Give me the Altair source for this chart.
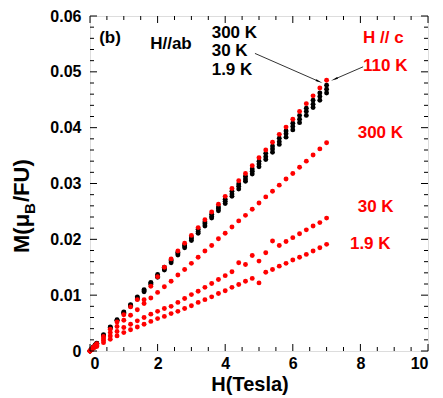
import altair as alt
import pandas as pd

# ---------------- data ----------------
H = [0, 0.05, 0.1, 0.15, 0.2, 0.4, 0.6, 0.8, 1.0, 1.2, 1.4, 1.6, 1.8, 2.0, 2.2, 2.4, 2.6, 2.8,
     3.0, 3.2, 3.4, 3.6, 3.8, 4.0, 4.2, 4.4, 4.6, 4.8, 5.0, 5.2, 5.4, 5.6, 5.8, 6.0, 6.2, 6.4,
     6.6, 6.8, 7.0]

ab_300K = [0, 0.0004, 0.0007, 0.0011, 0.0014, 0.0029, 0.0043, 0.0056, 0.0070, 0.0083, 0.0097,
           0.0110, 0.0123, 0.0137, 0.0150, 0.0163, 0.0177, 0.0190, 0.0204, 0.0218, 0.0231, 0.0245,
           0.0258, 0.0272, 0.0286, 0.0299, 0.0313, 0.0326, 0.0340, 0.0354, 0.0367, 0.0381, 0.0394,
           0.0408, 0.0422, 0.0435, 0.0449, 0.0462, 0.0476]
ab_30K = [0, 0.0003, 0.0007, 0.0010, 0.0013, 0.0028, 0.0042, 0.0055, 0.0069, 0.0082, 0.0095,
          0.0108, 0.0121, 0.0134, 0.0147, 0.0161, 0.0174, 0.0188, 0.0201, 0.0214, 0.0228, 0.0241,
          0.0255, 0.0268, 0.0281, 0.0295, 0.0308, 0.0322, 0.0335, 0.0348, 0.0362, 0.0375, 0.0389,
          0.0402, 0.0415, 0.0429, 0.0442, 0.0456, 0.0469]
ab_1p9K = [0, 0.0003, 0.0007, 0.0010, 0.0013, 0.0027, 0.0041, 0.0054, 0.0067, 0.0080, 0.0093,
           0.0106, 0.0119, 0.0132, 0.0145, 0.0158, 0.0172, 0.0185, 0.0198, 0.0211, 0.0224, 0.0238,
           0.0251, 0.0264, 0.0277, 0.0290, 0.0304, 0.0317, 0.0330, 0.0343, 0.0356, 0.0370, 0.0383,
           0.0396, 0.0409, 0.0422, 0.0436, 0.0449, 0.0462]

c_110K = [0, 0.0003, 0.0007, 0.0010, 0.0013, 0.0026, 0.0039, 0.0052, 0.0065, 0.0079, 0.0092,
          0.0092, 0.0116, 0.0133, 0.0150, 0.0165, 0.0179, 0.0193, 0.0207, 0.0221, 0.0235, 0.0249,
          0.0263, 0.0277, 0.0291, 0.0305, 0.0318, 0.0332, 0.0346, 0.0360, 0.0374, 0.0388, 0.0401,
          0.0415, 0.0429, 0.0443, 0.0457, 0.0471, 0.0485]
c_300K = [0, 0.0003, 0.0006, 0.0008, 0.0011, 0.0022, 0.0033, 0.0044, 0.0055, 0.0064, 0.0074,
          0.0085, 0.0095, 0.0105, 0.0115, 0.0125, 0.0136, 0.0146, 0.0157, 0.0168, 0.0179, 0.0189,
          0.0201, 0.0211, 0.0222, 0.0233, 0.0243, 0.0254, 0.0265, 0.0276, 0.0286, 0.0297, 0.0308,
          0.0318, 0.0329, 0.0340, 0.0351, 0.0362, 0.0373]
c_30K = [0, 0.0003, 0.0006, 0.0008, 0.0010, 0.0019, 0.0027, 0.0035, 0.0042, 0.0048, 0.0054,
         0.0060, 0.0066, 0.0071, 0.0076, 0.0080, 0.0087, 0.0094, 0.0101, 0.0107, 0.0114, 0.0121,
         0.0128, 0.0135, 0.0142, 0.0158, 0.0155, 0.0171, 0.0161, 0.0176, 0.0197, 0.0189, 0.0196,
         0.0203, 0.0210, 0.0217, 0.0224, 0.0230, 0.0238]
c_1p9K = [0, 0.0002, 0.0005, 0.0007, 0.0008, 0.0015, 0.0021, 0.0027, 0.0033, 0.0038, 0.0043,
          0.0048, 0.0053, 0.0058, 0.0062, 0.0067, 0.0071, 0.0076, 0.0081, 0.0087, 0.0092, 0.0097,
          0.0103, 0.0108, 0.0114, 0.0119, 0.0125, 0.0130, 0.0122, 0.0141, 0.0146, 0.0152, 0.0157,
          0.0163, 0.0168, 0.0173, 0.0179, 0.0185, 0.0191]

x_labels = [0, 2, 4, 6, 8, 10]
y_labels = [0, 0.01, 0.02, 0.03, 0.04, 0.05, 0.06]
x_minor = [0.5, 1, 1.5, 2.5, 3, 3.5, 4.5, 5, 5.5, 6.5, 7, 7.5, 8.5, 9, 9.5]
y_minor = [0.002, 0.004, 0.006, 0.008, 0.012, 0.014, 0.016, 0.018, 0.022, 0.024, 0.026, 0.028,
           0.032, 0.034, 0.036, 0.038, 0.042, 0.044, 0.046, 0.048, 0.052, 0.054, 0.056, 0.058]

ann_text = ["(b)", "H//ab", "300 K", "30 K", "1.9 K", "H // c", "110 K", "300 K", "30 K", "1.9 K"]
ann_x = [0.27, 1.78, 3.6, 3.6, 3.6, 8.08, 8.08, 7.92, 7.92, 7.69]
ann_y = [0.0560, 0.0550, 0.0569, 0.0537, 0.0503, 0.0560, 0.0510, 0.0391, 0.0258, 0.0191]
ann_col = ["black", "black", "black", "black", "black", "red", "red", "red", "red", "red"]

arrow_x = [4.88, 8.08]
arrow_y = [0.0533, 0.0509]
arrow_x2 = [6.75, 7.26]
arrow_y2 = [0.04834, 0.04875]
arrow_angle = [114, 246.5]

# ---------------- build ----------------
W, HT = 338, 335
FONT = "Liberation Sans"

series = [("ab 300K", ab_300K, "black"), ("ab 30K", ab_30K, "black"), ("ab 1.9K", ab_1p9K, "black"),
          ("c 110K", c_110K, "red"), ("c 300K", c_300K, "red"), ("c 30K", c_30K, "red"),
          ("c 1.9K", c_1p9K, "red")]
rows = []
k = 0
for name, vals, col in series:
    for h, m in zip(H, vals):
        rows.append({"H": h, "M": m, "series": name, "col": col, "idx": k})
        k += 1
df = pd.DataFrame(rows)

xs = alt.Scale(domain=[0, 10], nice=False, zero=False)
ys = alt.Scale(domain=[0, 0.06], nice=False, zero=False)

xaxis = alt.Axis(values=x_labels, ticks=False, domain=False, grid=False,
                 labelFont=FONT, labelFontSize=16, labelFontWeight="bold",
                 labelColor="black", labelPadding=4, title=None)
yaxis = alt.Axis(values=y_labels, ticks=False, domain=False, grid=False,
                 labelFont=FONT, labelFontSize=16, labelFontWeight="bold",
                 labelColor="black", labelPadding=9, title=None,
                 labelExpr="datum.value == 0 ? '0' : format(datum.value, '.2f')")

points = alt.Chart(df).mark_circle(size=24, opacity=1).encode(
    x=alt.X("H:Q", scale=xs, axis=xaxis),
    y=alt.Y("M:Q", scale=ys, axis=yaxis),
    color=alt.Color("col:N", scale=None),
    order=alt.Order("idx:Q"),
)

def xticks(vals, ln):
    d = pd.DataFrame({"t": vals})
    b = alt.Chart(d).mark_rule(color="black", strokeWidth=1).encode(
        x=alt.X("t:Q", scale=xs, axis=xaxis), y=alt.value(HT), y2=alt.value(HT - ln))
    t = alt.Chart(d).mark_rule(color="black", strokeWidth=1).encode(
        x=alt.X("t:Q", scale=xs, axis=xaxis), y=alt.value(0), y2=alt.value(ln))
    return b + t

def yticks(vals, ln):
    d = pd.DataFrame({"t": vals})
    l = alt.Chart(d).mark_rule(color="black", strokeWidth=1).encode(
        y=alt.Y("t:Q", scale=ys, axis=yaxis), x=alt.value(0), x2=alt.value(ln))
    r = alt.Chart(d).mark_rule(color="black", strokeWidth=1).encode(
        y=alt.Y("t:Q", scale=ys, axis=yaxis), x=alt.value(W), x2=alt.value(W - ln))
    return l + r

ann_df = pd.DataFrame({"x": ann_x, "y": ann_y, "text": ann_text, "col": ann_col})
ann = alt.Chart(ann_df).mark_text(align="left", baseline="middle", font=FONT, fontSize=17,
                                  fontWeight="bold").encode(
    x=alt.X("x:Q", scale=xs, axis=xaxis), y=alt.Y("y:Q", scale=ys, axis=yaxis),
    text="text:N", color=alt.Color("col:N", scale=None))

arr_df = pd.DataFrame({"x": arrow_x, "y": arrow_y, "x2": arrow_x2, "y2": arrow_y2, "a": arrow_angle})
arr_line = alt.Chart(arr_df).mark_rule(color="#333333", strokeWidth=1).encode(
    x=alt.X("x:Q", scale=xs, axis=xaxis), y=alt.Y("y:Q", scale=ys, axis=yaxis), x2="x2:Q", y2="y2:Q")
arr_head = alt.Chart(arr_df).mark_point(shape="wedge", filled=True, size=70, color="black",
                                        opacity=1).encode(
    x=alt.X("x2:Q", scale=xs, axis=xaxis), y=alt.Y("y2:Q", scale=ys, axis=yaxis),
    angle=alt.Angle("a:Q", scale=None))

# axis titles (with subscript)
ttl = pd.DataFrame({"k": [0]})
xtitle = alt.Chart(ttl).mark_text(text="H(Tesla)", font=FONT, fontSize=20, fontWeight="bold",
                                  align="center", baseline="middle", color="black").encode(
    x=alt.value(160), y=alt.value(369))
yt1 = alt.Chart(ttl).mark_text(text="M(\u03bc", font=FONT, fontSize=22, fontWeight="bold",
                               align="left", baseline="middle", angle=270, color="black").encode(
    x=alt.value(-68), y=alt.value(237))
yt2 = alt.Chart(ttl).mark_text(text="B", font=FONT, fontSize=15, fontWeight="bold",
                               align="left", baseline="middle", angle=270, color="black").encode(
    x=alt.value(-60), y=alt.value(198))
yt3 = alt.Chart(ttl).mark_text(text="/FU)", font=FONT, fontSize=22, fontWeight="bold",
                               align="left", baseline="middle", angle=270, color="black").encode(
    x=alt.value(-68), y=alt.value(186))

chart = alt.layer(
    points, xticks(x_labels, 7), xticks(x_minor, 4), yticks(y_labels, 7), yticks(y_minor, 4),
    arr_line, arr_head, ann, xtitle, yt1, yt2, yt3
).properties(
    width=W, height=HT,
    autosize=alt.AutoSizeParams(type="none"),
    padding={"left": 82, "top": 8, "right": 5, "bottom": 46},
).configure_view(stroke="black", strokeWidth=1.5).configure(background="white")

chart.save("out.html", embed_options={"renderer": "svg", "actions": False})
